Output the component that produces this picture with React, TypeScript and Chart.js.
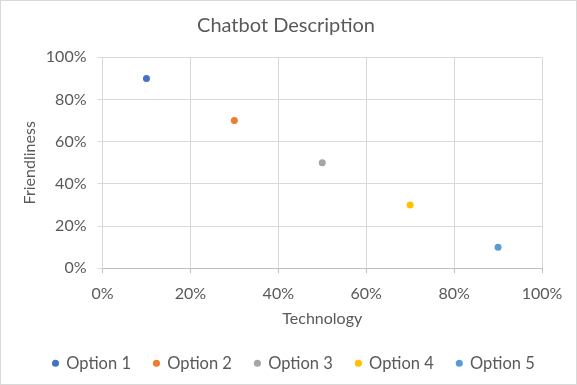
import React, { useEffect, useRef } from "react";
import { Chart, registerables } from "chart.js";

Chart.register(...registerables);

const chartTitle = "Chatbot Description";
const xAxisTitle = "Technology";
const yAxisTitle = "Friendliness";
const seriesNames = ["Option 1", "Option 2", "Option 3", "Option 4", "Option 5"];
const technologyValues = [0.1, 0.3, 0.5, 0.7, 0.9];
const friendlinessValues = [0.9, 0.7, 0.5, 0.3, 0.1];
const seriesColors = ["#4472C4", "#ED7D31", "#A5A5A5", "#FFC000", "#5B9BD5"];
const axisTickValues = [0, 0.2, 0.4, 0.6, 0.8, 1];

const TEXT = "#595959";
const GRID = "#D9D9D9";
const AXIS = "#BFBFBF";
const FONT = "Lato";
const LEGEND_EXTRA = 40;

const framePlugin = {
  id: "frame",
  beforeDraw(chart: any) {
    const ctx = chart.ctx;
    ctx.save();
    ctx.fillStyle = "#FFFFFF";
    ctx.fillRect(0, 0, chart.width, chart.height);
    ctx.strokeStyle = GRID;
    ctx.lineWidth = 1;
    ctx.strokeRect(0.5, 0.5, chart.width - 1, chart.height - 1);
    ctx.restore();
  },
};

// keep the legend on one row: let it extend a little past the right layout padding
const legendRowPlugin = {
  id: "legendRow",
  beforeLayout(chart: any) {
    const lg = chart.legend;
    if (lg && !lg.__rowPatched) {
      const orig = lg.update.bind(lg);
      lg.update = (w: number, h: number, m: any) => orig(w + LEGEND_EXTRA, h, m);
      lg.__rowPatched = true;
    }
  },
  afterLayout(chart: any) {
    const lg = chart.legend;
    if (lg) lg.right = lg.left + lg.width + LEGEND_EXTRA;
  },
};

const pct = (v: any) => Math.round(Number(v) * 100) + "%";

export default function App() {
  const ref = useRef<HTMLCanvasElement>(null);
  useEffect(() => {
    document.body.style.margin = "0";
    const chart = new Chart(ref.current!, {
      type: "scatter",
      data: {
        datasets: seriesNames.map((name, i) => ({
          label: name,
          data: [{ x: technologyValues[i], y: friendlinessValues[i] }],
          backgroundColor: seriesColors[i],
          borderColor: seriesColors[i],
          pointRadius: 3.5,
          pointBorderWidth: 0,
          pointStyle: "circle",
        })),
      },
      options: {
        responsive: false,
        animation: false,
        devicePixelRatio: 1,
        layout: { padding: { left: 30, right: 35, top: 0, bottom: 3.5 } },
        plugins: {
          title: {
            display: true,
            text: chartTitle,
            color: TEXT,
            font: { family: FONT, size: 20, weight: "normal" },
            padding: { top: 14, bottom: 19.3 },
          },
          legend: {
            position: "bottom",
            align: "start",
            labels: {
              usePointStyle: true,
              pointStyle: "circle",
              boxWidth: 5,
              boxHeight: 5,
              padding: 23,
              color: TEXT,
              font: { family: FONT, size: 16.5 },
            },
          },
          tooltip: { enabled: false },
        },
        scales: {
          x: {
            type: "linear",
            min: 0,
            max: 1,
            afterBuildTicks: (s: any) => {
              s.ticks = axisTickValues.map((v) => ({ value: v }));
            },
            afterFit: (s: any) => {
              s.height = 63.7;
            },
            ticks: {
              callback: pct,
              padding: 11,
              color: TEXT,
              font: { family: FONT, size: 16 },
              maxRotation: 0,
            },
            grid: { color: GRID, tickColor: AXIS, tickLength: 5 },
            border: { color: AXIS },
            title: {
              display: true,
              text: xAxisTitle,
              color: TEXT,
              font: { family: FONT, size: 16 },
              padding: { top: 0, bottom: 4 },
            },
          },
          y: {
            type: "linear",
            min: 0,
            max: 1,
            afterBuildTicks: (s: any) => {
              s.ticks = axisTickValues.map((v) => ({ value: v }));
            },
            afterFit: (s: any) => {
              s.width = 72.5;
            },
            ticks: {
              callback: pct,
              padding: 11,
              color: TEXT,
              font: { family: FONT, size: 16 },
            },
            grid: { color: GRID, tickColor: GRID, tickLength: 5 },
            border: { color: GRID },
            title: {
              display: true,
              text: yAxisTitle,
              color: TEXT,
              font: { family: FONT, size: 16 },
              padding: { top: -10, bottom: 0 },
            },
          },
        },
      },
      plugins: [framePlugin, legendRowPlugin],
    } as any);
    return () => chart.destroy();
  }, []);
  return <canvas ref={ref} width={577} height={385} style={{ display: "block" }} />;
}
